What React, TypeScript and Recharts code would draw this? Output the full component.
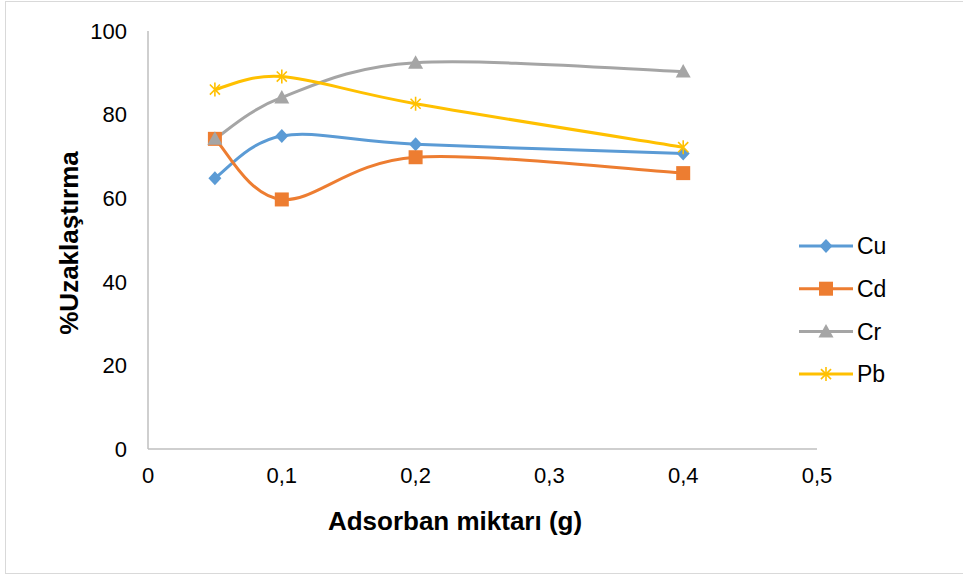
import React from 'react';
import { LineChart, Line, XAxis, YAxis, Customized } from 'recharts';

const doses = [0.05, 0.1, 0.2, 0.4];
const cuValues = [64.8, 74.9, 72.9, 70.7];
const cdValues = [74.2, 59.7, 69.8, 66.0];
const crValues = [74.2, 84.1, 92.4, 90.3];
const pbValues = [86.0, 89.1, 82.6, 72.2];
const xTicks = [0, 0.1, 0.2, 0.3, 0.4, 0.5];
const yTicks = [0, 20, 40, 60, 80, 100];

const seriesList = [
  { key: 'Cu', values: cuValues, color: '#5b9bd5', shape: 'diamond' },
  { key: 'Cd', values: cdValues, color: '#ed7d31', shape: 'square' },
  { key: 'Cr', values: crValues, color: '#a5a5a5', shape: 'triangle' },
  { key: 'Pb', values: pbValues, color: '#ffc000', shape: 'star' },
];

const data = doses.map((x, i) => {
  const row: Record<string, number> = { x };
  seriesList.forEach((s) => {
    row[s.key] = s.values[i];
  });
  return row;
});

// Excel-like smoothed line (Catmull-Rom style bezier)
const smoothCurve = (context: any) => {
  let pts: [number, number][] = [];
  return {
    areaStart() {},
    areaEnd() {},
    lineStart() {
      pts = [];
    },
    lineEnd() {
      if (!pts.length) return;
      context.moveTo(pts[0][0], pts[0][1]);
      for (let i = 0; i < pts.length - 1; i++) {
        const p0 = pts[i - 1] || pts[i];
        const p1 = pts[i];
        const p2 = pts[i + 1];
        const p3 = pts[i + 2] || p2;
        context.bezierCurveTo(
          p1[0] + (p2[0] - p0[0]) / 6,
          p1[1] + (p2[1] - p0[1]) / 6,
          p2[0] - (p3[0] - p1[0]) / 6,
          p2[1] - (p3[1] - p1[1]) / 6,
          p2[0],
          p2[1]
        );
      }
    },
    point(x: number, y: number) {
      pts.push([+x, +y]);
    },
  };
};

const Marker = ({ cx, cy, shape, color }: { cx: number; cy: number; shape: string; color: string }) => {
  if (shape === 'diamond') {
    return <path d={`M${cx},${cy - 7}L${cx + 6.5},${cy}L${cx},${cy + 7}L${cx - 6.5},${cy}Z`} fill={color} />;
  }
  if (shape === 'square') {
    return <rect x={cx - 7} y={cy - 7} width={14} height={14} fill={color} />;
  }
  if (shape === 'triangle') {
    return <path d={`M${cx},${cy - 7.5}L${cx + 7.5},${cy + 6}L${cx - 7.5},${cy + 6}Z`} fill={color} />;
  }
  const r = 7;
  const d = r * 0.72;
  return (
    <g stroke={color} strokeWidth={1.6}>
      <line x1={cx} y1={cy - r} x2={cx} y2={cy + r} />
      <line x1={cx - d} y1={cy - d} x2={cx + d} y2={cy + d} />
      <line x1={cx - d} y1={cy + d} x2={cx + d} y2={cy - d} />
    </g>
  );
};

const fmt = (v: number) => String(v).replace('.', ',');

const Extras = () => (
  <g fontFamily="'Liberation Sans', Arial, sans-serif">
    <text x={455} y={530} textAnchor="middle" fontSize={26} fontWeight="bold" fill="#000">
      Adsorban miktarı (g)
    </text>
    <text
      x={0}
      y={0}
      transform="translate(78,243) rotate(-90)"
      textAnchor="middle"
      fontSize={26}
      fontWeight="bold"
      fill="#000"
    >
      %Uzaklaştırma
    </text>
    {seriesList.map((s, i) => {
      const y = 246 + i * 42.7;
      return (
        <g key={s.key}>
          <line x1={799} y1={y} x2={853} y2={y} stroke={s.color} strokeWidth={3} />
          <Marker cx={826} cy={y} shape={s.shape} color={s.color} />
          <text x={857} y={y} dy="0.36em" fontSize={23} fill="#000">
            {s.key}
          </text>
        </g>
      );
    })}
  </g>
);

export default function App() {
  return (
    <div style={{ position: 'absolute', left: 0, top: 0, width: 963, height: 576, background: '#fff', overflow: 'hidden' }}>
      <div
        style={{
          position: 'absolute',
          left: 5,
          top: 1,
          width: 980,
          height: 571,
          border: '1px solid #d9d9d9',
        }}
      />
      <LineChart
        width={963}
        height={576}
        data={data}
        margin={{ top: 31, right: 146, left: 88, bottom: 97 }}
        style={{ position: 'absolute', left: 0, top: 0 }}
      >
        <XAxis
          dataKey="x"
          type="number"
          domain={[0, 0.5]}
          ticks={xTicks}
          tickFormatter={fmt}
          height={30}
          tickSize={0}
          tickMargin={18}
          axisLine={{ stroke: '#bfbfbf', strokeWidth: 1.5 }}
          tick={{ fill: '#000', fontSize: 22, fontFamily: "'Liberation Sans', Arial, sans-serif" }}
        />
        <YAxis
          type="number"
          domain={[0, 100]}
          ticks={yTicks}
          width={60}
          tickSize={0}
          tickMargin={21}
          axisLine={{ stroke: '#bfbfbf', strokeWidth: 1.5 }}
          tick={{ fill: '#000', fontSize: 22, fontFamily: "'Liberation Sans', Arial, sans-serif" }}
        />
        {seriesList.map((s) => (
          <Line
            key={s.key}
            dataKey={s.key}
            type={smoothCurve as any}
            stroke={s.color}
            strokeWidth={3}
            isAnimationActive={false}
            activeDot={false}
            dot={(p: any) => <Marker key={`${s.key}-${p.index}`} cx={p.cx} cy={p.cy} shape={s.shape} color={s.color} />}
          />
        ))}
        <Customized component={Extras} />
      </LineChart>
    </div>
  );
}
